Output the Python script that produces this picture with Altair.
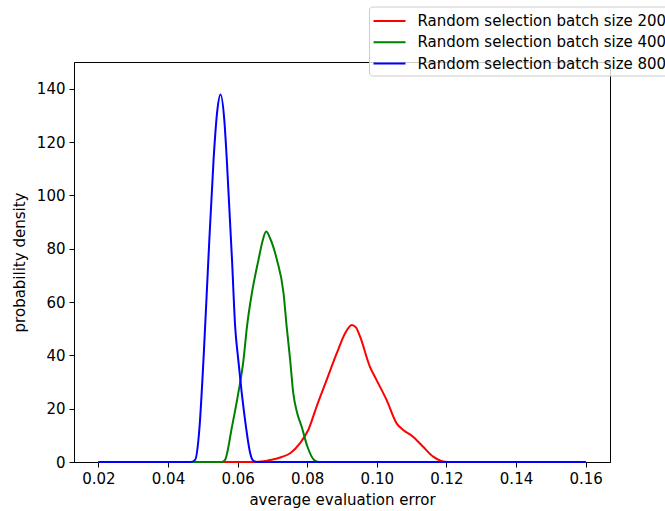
import altair as alt
import pandas as pd

# series labels
labels = [
    "Random selection batch size 200",
    "Random selection batch size 400",
    "Random selection batch size 800",
]
colors = ["#ff0000", "#008000", "#0000ff"]

# red: batch size 200
x200 = [0.02, 0.064, 0.0675, 0.0693, 0.0725, 0.0751, 0.0779, 0.0803, 0.0827,
        0.0856, 0.0885, 0.0909, 0.0928, 0.0940, 0.0952, 0.0980, 0.0999, 0.1028,
        0.1057, 0.1076, 0.1104, 0.1133, 0.1162, 0.1185, 0.1205, 0.16]
y200 = [0, 0, 0.3, 0.75, 1.8, 3.3, 7.0, 12.0, 20.8,
        30.8, 40.8, 48.3, 51.4, 50.5, 47.0, 35.8, 30.8, 23.3,
        14.5, 12.0, 9.5, 5.7, 2.0, 0.4, 0, 0]

# green: batch size 400
x400 = [0.02, 0.0555, 0.0564, 0.0584, 0.0602, 0.0617, 0.0627, 0.0641, 0.0660,
        0.0672, 0.0682, 0.0693, 0.0713, 0.0732, 0.0741, 0.0751, 0.0760, 0.0772,
        0.0784, 0.0800, 0.0822, 0.0835, 0.16]
y400 = [0, 0, 0.8, 13.3, 25.8, 38.3, 50.8, 63.3, 75.8,
        83.0, 86.4, 84.0, 75.8, 63.3, 50.8, 38.3, 25.8, 18.0,
        13.3, 6.0, 0.5, 0, 0]

# blue: batch size 800
x800 = [0.02, 0.0465, 0.0478, 0.0490, 0.0502, 0.0516, 0.0531, 0.0541, 0.0551,
        0.0562, 0.0569, 0.0584, 0.0593, 0.0602, 0.0612, 0.0624, 0.0635, 0.0643,
        0.0655, 0.16]
y800 = [0, 0, 0.8, 12.0, 38.3, 75.8, 113.4, 130.9, 137.8,
        128.0, 113.4, 75.8, 50.8, 38.3, 25.8, 13.3, 4.0, 0.8,
        0, 0]

rows = []
for lab, xs, ys in zip(labels, [x200, x400, x800], [y200, y400, y800]):
    for i, (xv, yv) in enumerate(zip(xs, ys)):
        rows.append({"series": lab, "x": xv, "y": yv, "i": i})
df = pd.DataFrame(rows)

FONT = "DejaVu Sans"

chart = (
    alt.Chart(df)
    .mark_line(strokeWidth=2, interpolate="monotone")
    .encode(
        x=alt.X(
            "x:Q",
            scale=alt.Scale(domain=[0.013, 0.167], nice=False, zero=False),
            axis=alt.Axis(
                values=[0.02, 0.04, 0.06, 0.08, 0.10, 0.12, 0.14, 0.16],
                format=".2f",
                title="average evaluation error",
                titlePadding=6,
            ),
        ),
        y=alt.Y(
            "y:Q",
            scale=alt.Scale(domain=[0, 150], nice=False),
            axis=alt.Axis(
                values=[0, 20, 40, 60, 80, 100, 120, 140],
                title="probability density",
                titlePadding=9,
            ),
        ),
        color=alt.Color(
            "series:N",
            scale=alt.Scale(domain=labels, range=colors),
            legend=alt.Legend(
                title=None,
                orient="none",
                legendX=295,
                legendY=-55.5,
                symbolType="M-1,0L2.2,0",
                symbolSize=400,
                symbolStrokeWidth=2,
                labelOffset=23,
                labelFontSize=15,
                labelFont=FONT,
                labelColor="#000000",
                rowPadding=2.3,
                padding=3.5,
                strokeColor="#cccccc",
                fillColor="rgba(255,255,255,0.8)",
                cornerRadius=3,
                labelLimit=400,
            ),
        ),
        detail="series:N",
        order="i:Q",
    )
    .properties(
        width=536,
        height=400,
        autosize=alt.AutoSizeParams(type="none"),
        padding={"left": 74, "top": 62, "right": 55, "bottom": 49},
    )
    .configure_view(stroke="#000000", strokeWidth=1)
    .configure_axis(
        grid=False,
        domainColor="#000000",
        domainWidth=1,
        tickColor="#000000",
        tickSize=5,
        labelPadding=4,
        labelFont=FONT,
        labelFontSize=15,
        labelColor="#000000",
        titleFont=FONT,
        titleFontSize=15,
        titleFontWeight="normal",
        titleColor="#000000",
    )
)

chart.save("out.html", embed_options={"renderer": "svg", "actions": False})
